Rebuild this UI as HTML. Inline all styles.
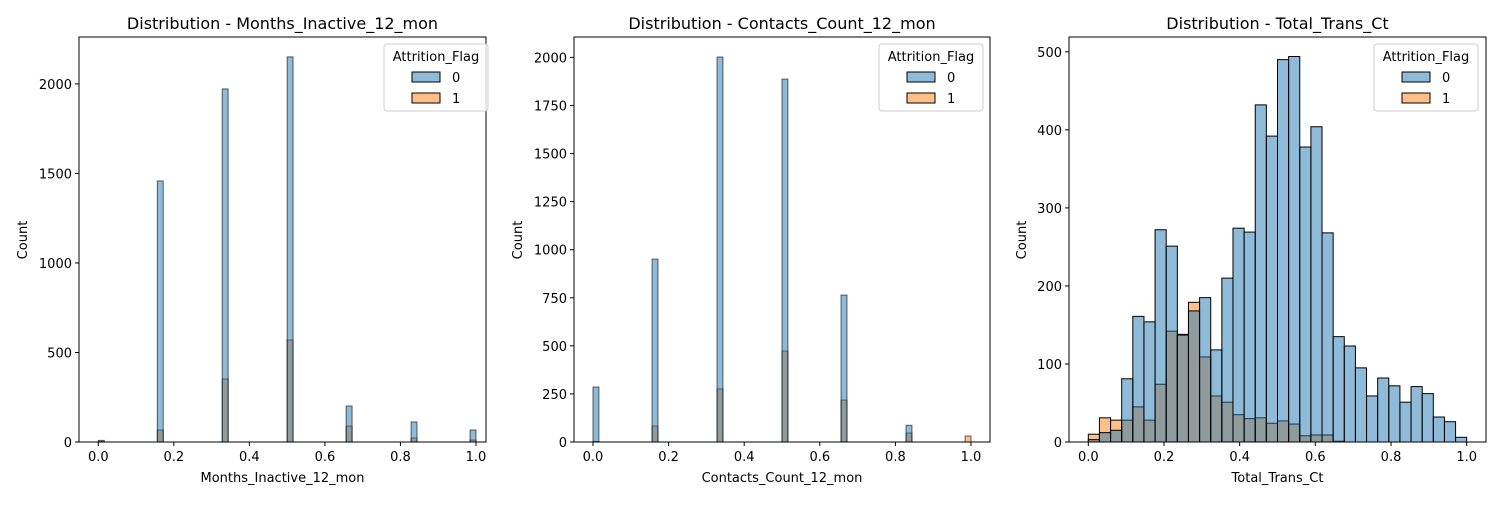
<!DOCTYPE html>
<html><head><meta charset="utf-8"><style>
body{margin:0;background:#fff;}
svg text{font-family:"DejaVu Sans","Liberation Sans",sans-serif;fill:#000;}
</style></head><body>
<svg id="fig" width="1500" height="500" xmlns="http://www.w3.org/2000/svg"></svg>
<script>
// Chart 1: Months_Inactive_12_mon
const c1Values = [0.0, 0.1667, 0.3333, 0.5, 0.6667, 0.8333, 1.0];
const c1Blue = [9, 1458, 1972, 2151, 201, 112, 67];
const c1Orange = [3, 67, 352, 570, 89, 22, 11];
// Chart 2: Contacts_Count_12_mon
const c2Values = [0.0, 0.1667, 0.3333, 0.5, 0.6667, 0.8333, 1.0];
const c2Blue = [286, 951, 2002, 1887, 764, 87, 0];
const c2Orange = [3, 83, 276, 473, 218, 47, 31];
// Chart 3: Total_Trans_Ct (34 bins over 0..1)
const c3Blue = [3,12,15,81,161,154,272,251,137,168,185,118,210,274,269,432,392,490,494,378,404,268,135,123,95,59,82,72,51,71,62,32,26,6];
const c3Orange = [10,31,28,28,45,28,74,142,138,179,109,59,51,35,30,31,24,27,23,8,9,9,1,0,0,0,0,0,0,0,0,0,0,0];
const xTicks = [0,0.2,0.4,0.6,0.8,1.0];
const xTickLabels = ["0.0","0.2","0.4","0.6","0.8","1.0"];
const y1Ticks = [0,500,1000,1500,2000];
const y2Ticks = [0,250,500,750,1000,1250,1500,1750,2000];
const y3Ticks = [0,100,200,300,400,500];

const NS="http://www.w3.org/2000/svg";
const svg=document.getElementById('fig');
function mk(tag,attrs,parent){const e=document.createElementNS(NS,tag);for(const k in attrs)e.setAttribute(k,attrs[k]);(parent||svg).appendChild(e);return e;}

const panels=[
 {name:'months-inactive',left:79,right:486,x0:98.3,x1:476,ymax:2262,yTicks:y1Ticks,title:'Distribution - Months_Inactive_12_mon',xlabel:'Months_Inactive_12_mon',mode:'discrete',vals:c1Values,blue:c1Blue,orange:c1Orange,legX:384},
 {name:'contacts-count',left:574,right:990,x0:593,x1:971,ymax:2106,yTicks:y2Ticks,title:'Distribution - Contacts_Count_12_mon',xlabel:'Contacts_Count_12_mon',mode:'discrete',vals:c2Values,blue:c2Blue,orange:c2Orange,legX:879},
 {name:'total-trans-ct',left:1069,right:1486,x0:1088.3,x1:1466.7,ymax:519,yTicks:y3Ticks,title:'Distribution - Total_Trans_Ct',xlabel:'Total_Trans_Ct',mode:'bins',blue:c3Blue,orange:c3Orange,legX:1374}
];
const plotTop=37,plotBottom=442;
panels.forEach(p=>{
  const g=mk('g',{});
  
  
  const xs=v=>p.x0+v*(p.x1-p.x0);
  const ys=v=>plotBottom-v*(plotBottom-plotTop)/p.ymax;
  function drawBar(lo,hi,v,color,series){
    if(v<=0)return;
    const r=mk('rect',{x:xs(lo),y:ys(v),width:xs(hi)-xs(lo),height:plotBottom-ys(v),fill:color,'fill-opacity':0.5,stroke:'#000','stroke-opacity':p.mode==='bins'?1:0.6,'stroke-width':1},g);
    
    
  }
  ['orange','blue'].forEach(s=>{
    const color=s==='blue'?'#1f77b4':'#ff7f0e';
    const arr=p[s];
    if(p.mode==='discrete'){
      const n=64,w=1/n;
      arr.forEach((v,i)=>{const b=Math.min(n-1,Math.floor(p.vals[i]*n));drawBar(b*w,(b+1)*w,v,color,s==='blue'?'attrition-0':'attrition-1');});
    }else{
      const n=arr.length,w=1/n;
      arr.forEach((v,i)=>drawBar(i*w,(i+1)*w,v,color,s==='blue'?'attrition-0':'attrition-1'));
    }
  });
  const fr=mk('rect',{x:p.left,y:plotTop,width:p.right-p.left,height:plotBottom-plotTop,fill:'none',stroke:'#000','stroke-width':1},g);
  
  
  xTicks.forEach((t,i)=>{
    const x=xs(t);
    mk('line',{x1:x,x2:x,y1:plotBottom,y2:plotBottom+4,stroke:'#000'},g);
    const tx=mk('text',{x:x,y:plotBottom+19,'font-size':13,'text-anchor':'middle'},g);
    tx.textContent=xTickLabels[i];
    
    
  });
  p.yTicks.forEach(t=>{
    const y=ys(t);
    mk('line',{x1:p.left-4,x2:p.left,y1:y,y2:y,stroke:'#000'},g);
    const tx=mk('text',{x:p.left-7,y:y+5,'font-size':13,'text-anchor':'end'},g);
    tx.textContent=String(t);
    
    
  });
  const tt=mk('text',{x:(p.left+p.right)/2,y:29,'font-size':16,'text-anchor':'middle'},g);
  tt.textContent=p.title;
  
  
  const xl=mk('text',{x:(p.left+p.right)/2,y:482,'font-size':13,'text-anchor':'middle'},g);
  xl.textContent=p.xlabel;
  
  
  const yx=p.left-(p.yTicks[p.yTicks.length-1]>=1000?52:43);
  const yl=mk('text',{x:yx,y:240,'font-size':13,'text-anchor':'middle',transform:`rotate(-90 ${yx} 240)`},g);
  yl.textContent='Count';
  
  
  const lg=mk('g',{},g);
  
  
  const lx=p.legX;
  mk('rect',{x:lx,y:44,width:104,height:67,rx:3,fill:'#fff','fill-opacity':0.8,stroke:'#ccc'},lg);
  const lt=mk('text',{x:lx+52,y:61,'font-size':13,'text-anchor':'middle'},lg);
  lt.textContent='Attrition_Flag';
  [['#1f77b4','0',72],['#ff7f0e','1',93]].forEach(([c,l,y])=>{
    const e=mk('g',{},lg);
    
    
    mk('rect',{x:lx+28,y:y,width:28,height:10,fill:c,'fill-opacity':0.5,stroke:'#000'},e);
    const t=mk('text',{x:lx+68,y:y+10,'font-size':13},e);
    t.textContent=l;
  });
});
</script>
</body></html>
